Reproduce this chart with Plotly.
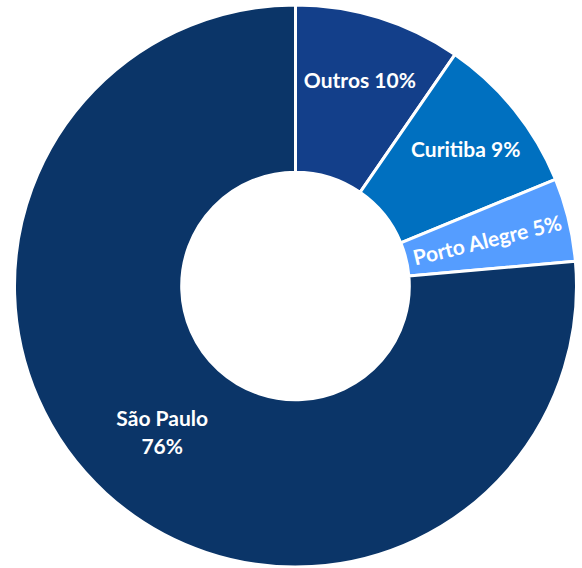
import plotly.graph_objects as go

labels = ["Outros", "Curitiba", "Porto Alegre", "São Paulo"]
values = [9.6, 9.2, 4.8, 76.4]
colors = ["#133f8a", "#0070c0", "#559dff", "#0b3568"]
templates = ["%{label} %{percent:.0%}", "%{label} %{percent:.0%}",
             "%{label} %{percent:.0%}", "%{label}<br>%{percent:.0%}"]

W, H = 582, 568
cx, cy, R = 295.5, 286, 281  # pixel centre (from top) and radius

fig = go.Figure(go.Pie(
    labels=labels, values=values, sort=False, direction="clockwise", rotation=0,
    hole=0.405,
    marker=dict(colors=colors, line=dict(color="white", width=3)),
    texttemplate=templates, textinfo="text",
    textposition="inside", insidetextorientation="auto",
    textfont=dict(family="Lato", size=21, color="white", weight="bold"),
    domain=dict(x=[(cx - R) / W, (cx + R) / W],
                y=[(H - cy - R) / H, (H - cy + R) / H]),
    showlegend=False,
))
fig.update_layout(width=W, height=H, margin=dict(l=0, r=0, t=0, b=0),
                  paper_bgcolor="white")
fig.write_html("out.html", config={"displayModeBar": False},
               post_script="document.body.style.margin='0';"
                           "document.body.style.overflow='hidden';")
